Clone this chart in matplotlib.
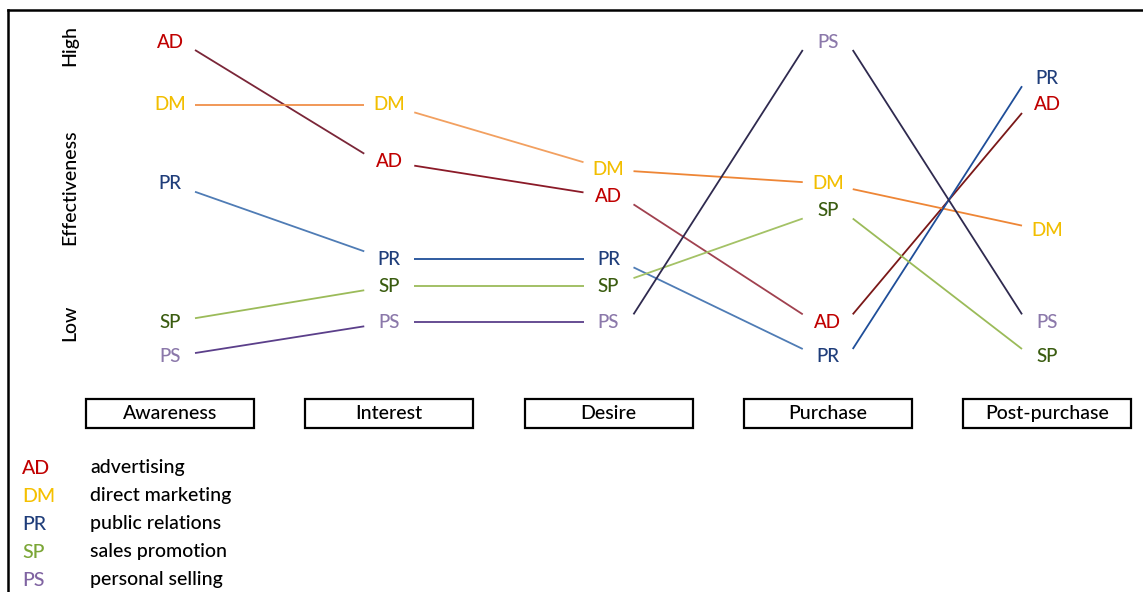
import matplotlib
matplotlib.use("Agg")
import matplotlib.pyplot as plt
from matplotlib.patches import Rectangle
from matplotlib.lines import Line2D

plt.rcParams['font.family'] = ['Lato', 'DejaVu Sans']

# ---- data ----
stages = ["Awareness", "Interest", "Desire", "Purchase", "Post-purchase"]
tools = ["AD", "DM", "PR", "SP", "PS"]
tool_names = ["advertising", "direct marketing", "public relations",
              "sales promotion", "personal selling"]
# effectiveness (0 = low, 10 = high) at each stage
AD = [10.0, 6.2, 5.1, 1.1, 8.0]
DM = [8.0, 8.0, 5.95, 5.5, 4.0]
PR = [5.5, 3.1, 3.1, 0.0, 8.85]
SP = [1.1, 2.25, 2.25, 4.65, 0.0]
PS = [0.0, 1.1, 1.1, 10.0, 1.1]
values = {"AD": AD, "DM": DM, "PR": PR, "SP": SP, "PS": PS}

# ---- styles ----
label_colors = {"AD": "#C00000", "DM": "#F2BE00", "PR": "#1F3D7A",
                "SP": "#3A5C10", "PS": "#8B78AA"}
legend_colors = {"AD": "#C00000", "DM": "#F5C000", "PR": "#1F3D7A",
                 "SP": "#7BA636", "PS": "#8064A2"}
seg_colors = {
    "AD": ["#7A2638", "#8B1A28", "#A0414F", "#7A1818"],
    "DM": ["#F0904A", "#F2A060", "#EE8636", "#EE8636"],
    "PR": ["#4F7CB5", "#1F4E99", "#4F7CB5", "#1F4E99"],
    "SP": ["#9BBB59", "#9BBB59", "#A4C266", "#9BBB59"],
    "PS": ["#5B3F8A", "#5B3F8A", "#2F2A4F", "#2F2A4F"],
}

W, H = 1143, 592
fig = plt.figure(figsize=(W / 100, H / 100), dpi=100)
ax = fig.add_axes([0, 0, 1, 1])
x0, dx = 170.0, 219.25       # pixel of stage 0, spacing
y0, dy = 357.0, 31.5          # pixel of value 0, pixels per unit
ax.set_xlim((0 - x0) / dx, (W - x0) / dx)
ax.set_ylim((y0 - H) / dy, y0 / dy)
ax.axis("off")

xgap = 25.0 / dx      # horizontal space left around labels
ymax_off = 8.0 / dy   # max vertical shift of line ends from label centre
lab_fs = 13.5
txt_fs = 14
wt = "medium"

for t in tools:
    v = values[t]
    for i in range(len(stages) - 1):
        d = v[i + 1] - v[i]
        off = d * xgap
        if abs(off) > ymax_off:
            off = ymax_off if off > 0 else -ymax_off
        ax.plot([i + xgap, i + 1 - xgap], [v[i] + off, v[i + 1] - off],
                color=seg_colors[t][i], lw=1.3, solid_capstyle="butt")
    for i in range(len(stages)):
        ax.text(i, v[i], t, color=label_colors[t], fontsize=lab_fs,
                fontweight=wt, ha="center", va="center")

# stage boxes
bw = 168 / dx
by_top, by_bot = (y0 - 399) / dy, (y0 - 428) / dy
for i, s in enumerate(stages):
    ax.add_patch(Rectangle((i - bw / 2, by_bot), bw, by_top - by_bot,
                           fill=False, ec="black", lw=1.6))
    ax.text(i, (by_top + by_bot) / 2, s, fontsize=txt_fs, fontweight=wt,
            ha="center", va="center", color="black")


def fx(p):
    return p / W


def fy(p):
    return 1 - p / H


# effectiveness axis labels
fig.text(fx(70), fy(45), "High", rotation=90, ha="center", va="center",
         fontsize=txt_fs, fontweight=wt)
fig.text(fx(70), fy(187), "Effectiveness", rotation=90, ha="center",
         va="center", fontsize=txt_fs, fontweight=wt)
fig.text(fx(70), fy(323), "Low", rotation=90, ha="center", va="center",
         fontsize=txt_fs, fontweight=wt)

# legend
for k, (t, name) in enumerate(zip(tools, tool_names)):
    yy = 468 + 28 * k
    fig.text(fx(22), fy(yy), t, color=legend_colors[t], fontsize=txt_fs,
             fontweight=wt, ha="left", va="center")
    fig.text(fx(90), fy(yy), name, color="black", fontsize=txt_fs,
             fontweight=wt, ha="left", va="center")

# frame: left and top borders
fig.add_artist(Line2D([fx(8), fx(8)], [fy(10), 0], color="black", lw=1.8))
fig.add_artist(Line2D([fx(8), 1], [fy(10), fy(10)], color="black", lw=1.8))

fig.savefig("out.png", dpi=100)
